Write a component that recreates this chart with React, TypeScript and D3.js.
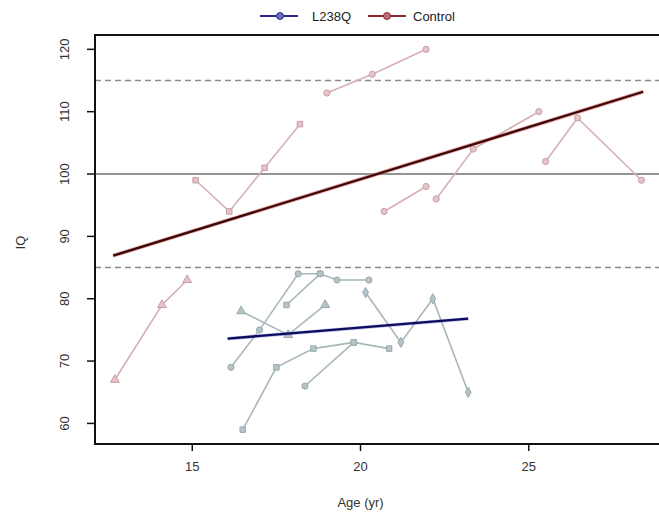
import React from 'react';
import * as d3 from 'd3';

const W = 659;
const H = 516;

// [age, IQ] per subject
const controlSeries: [number, number][][] = [
  [[12.7, 67], [14.1, 79], [14.85, 83]],
  [[15.1, 99], [16.1, 94], [17.15, 101], [18.2, 108]],
  [[19.0, 113], [20.35, 116], [21.95, 120]],
  [[20.7, 94], [21.95, 98]],
  [[22.25, 96], [23.35, 104], [25.3, 110]],
  [[25.5, 102], [26.45, 109], [28.35, 99]],
];
const controlShapes = ['triangle', 'square', 'circle', 'circle', 'circle', 'circle'];

const l238qSeries: [number, number][][] = [
  [[16.15, 69], [17.0, 75], [18.15, 84], [18.8, 84], [19.3, 83], [20.25, 83]],
  [[17.8, 79], [18.8, 84]],
  [[16.45, 78], [17.85, 74.2], [18.95, 79]],
  [[16.5, 59], [17.5, 69], [18.6, 72], [19.8, 73], [20.85, 72]],
  [[18.35, 66], [19.8, 73]],
  [[20.15, 81], [21.2, 73], [22.15, 80], [23.2, 65]],
];
const l238qShapes = ['circle', 'square', 'triangle', 'square', 'circle', 'diamond'];

// fitted trend lines (start, end)
const controlFit: [number, number][] = [[12.65, 86.9], [28.4, 113.2]];
const l238qFit: [number, number][] = [[16.05, 73.6], [23.2, 76.8]];

const refLines = [
  { iq: 115, dashed: true },
  { iq: 100, dashed: false },
  { iq: 85, dashed: true },
];
const xTicks = [15, 20, 25];
const yTicks = [60, 70, 80, 90, 100, 110, 120];

const symbolTypes: Record<string, d3.SymbolType> = {
  circle: d3.symbolCircle,
  square: d3.symbolSquare,
  triangle: d3.symbolTriangle,
  diamond: d3.symbolDiamond,
};

const FONT = 'Liberation Sans, Arial, sans-serif';

export default function App() {
  const left = 95;
  const top = 35;
  const bottom = 444;

  const x = d3.scaleLinear().domain([12.11, 28.87]).range([left, W]);
  const y = d3.scaleLinear().domain([56.7, 122.3]).range([bottom, top]);
  const line = d3.line<[number, number]>().x(d => x(d[0])).y(d => y(d[1]));

  const drawGroup = (
    series: [number, number][][],
    shapes: string[],
    lineColor: string,
    fill: string,
    stroke: string,
    key: string
  ) =>
    series.map((s, i) => {
      const sym = d3.symbol().type(symbolTypes[shapes[i]]).size(shapes[i] === 'triangle' ? 34 : 30);
      return (
        <g key={key + i}>
          <path d={line(s) || ''} fill="none" stroke={lineColor} strokeWidth={1.6} />
          {s.map((p, j) => (
            <path
              key={j}
              d={sym() || ''}
              transform={`translate(${x(p[0])},${y(p[1])})`}
              fill={fill}
              stroke={stroke}
              strokeWidth={1}
            />
          ))}
        </g>
      );
    });

  return (
    <svg
      width={W}
      height={H}
      style={{ position: 'absolute', left: 0, top: 0, background: '#fff' }}
      fontFamily={FONT}
    >
      {/* reference lines */}
      {refLines.map(r => (
        <line
          key={r.iq}
          x1={left}
          x2={W}
          y1={y(r.iq)}
          y2={y(r.iq)}
          stroke={r.dashed ? '#8a8a8a' : '#707070'}
          strokeWidth={1.4}
          strokeDasharray={r.dashed ? '6,4' : undefined}
        />
      ))}

      {drawGroup(controlSeries, controlShapes, '#d6b0b6', '#e6c4c9', '#c99ea5', 'c')}
      {drawGroup(l238qSeries, l238qShapes, '#a7b7ba', '#b6c4c7', '#97aaae', 'l')}

      {/* trend lines */}
      <path d={line(controlFit) || ''} fill="none" stroke="#e07070" strokeOpacity={0.6} strokeWidth={4} />
      <path d={line(controlFit) || ''} fill="none" stroke="#3a0808" strokeWidth={2.3} />
      <path d={line(l238qFit) || ''} fill="none" stroke="#6060d0" strokeOpacity={0.4} strokeWidth={3.5} />
      <path d={line(l238qFit) || ''} fill="none" stroke="#0c0c5c" strokeWidth={2.3} />

      {/* frame */}
      <path d={`M${W + 2},${top}H${left}V${bottom}H${W + 2}`} fill="none" stroke="#111" strokeWidth={2} />

      {/* y axis */}
      {yTicks.map(t => (
        <g key={t} transform={`translate(${left},${y(t)})`}>
          <line x1={-8} x2={0} stroke="#111" strokeWidth={1.5} />
          <text
            transform="translate(-31,0) rotate(-90)"
            textAnchor="middle"
            dy="0.35em"
            fontSize={13}
            fill="#333"
          >
            {t}
          </text>
        </g>
      ))}
      <text transform={`translate(20,${y(89)}) rotate(-90)`} textAnchor="middle" dy="0.35em" fontSize={13} fill="#333">
        IQ
      </text>

      {/* x axis */}
      {xTicks.map(t => (
        <g key={t} transform={`translate(${x(t)},${bottom})`}>
          <line y1={0} y2={7} stroke="#111" strokeWidth={1.5} />
          <text y={27} textAnchor="middle" fontSize={13} fill="#333">
            {t}
          </text>
        </g>
      ))}
      <text x={x(20)} y={507} textAnchor="middle" fontSize={13} fill="#333">
        Age (yr)
      </text>

      {/* legend */}
      <g transform="translate(0,16)">
        <line x1={260} x2={298} stroke="#2a2a8a" strokeWidth={2} />
        <circle cx={280} r={3.5} fill="#6a6ac0" stroke="#2a2a8a" />
        <text x={312} dy="0.35em" fontSize={13} fill="#222">L238Q</text>
        <line x1={368} x2={406} stroke="#8a2a30" strokeWidth={2} />
        <circle cx={387} r={3.5} fill="#c07078" stroke="#8a2a30" />
        <text x={413} dy="0.35em" fontSize={13} fill="#222">Control</text>
      </g>
    </svg>
  );
}
